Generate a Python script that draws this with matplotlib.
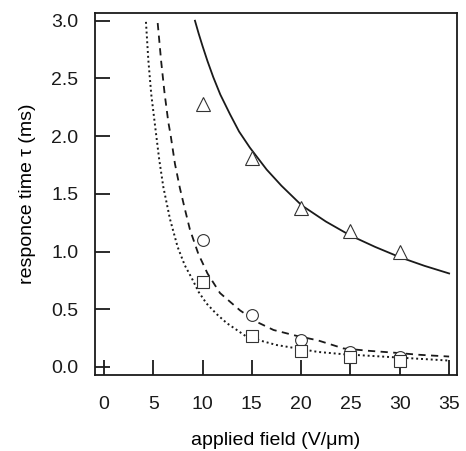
import matplotlib.pyplot as plt

plt.rcParams['font.family'] = ['Liberation Sans', 'DejaVu Sans']

# measured response times (ms) vs applied field (V/um)
field = [10, 15, 20, 25, 30]
tau_triangle = [2.28, 1.81, 1.38, 1.18, 1.00]
tau_circle = [1.10, 0.45, 0.23, 0.13, 0.09]
tau_square = [0.74, 0.27, 0.14, 0.09, 0.055]

# fitted curves
solid_x = [9.23, 9.6, 10.0, 10.5, 11.09, 11.8, 12.78, 13.7, 14.8, 16.5, 18.0, 20.05, 22.5, 24.96, 27.5, 30.03, 32.5, 35.0]
solid_y = [3.00, 2.89, 2.78, 2.65, 2.51, 2.36, 2.19, 2.04, 1.90, 1.71, 1.57, 1.40, 1.26, 1.14, 1.04, 0.950, 0.876, 0.81]

dashed_x = [5.45, 5.8, 6.15, 6.53, 6.76, 7.2, 7.7, 8.2, 8.72, 9.57, 10.5, 11.77, 13.8, 15.5, 17.2, 19.5, 21.7, 24.3, 26.8, 29.35, 32.0, 35.0]
dashed_y = [2.98, 2.65, 2.37, 2.12, 2.01, 1.76, 1.55, 1.37, 1.19, 0.98, 0.81, 0.64, 0.49, 0.39, 0.32, 0.27, 0.23, 0.16, 0.14, 0.124, 0.105, 0.09]

dotted_x = [4.26, 4.5, 4.8, 5.17, 5.6, 6.02, 6.7, 7.47, 8.2, 8.9, 9.6, 10.4, 11.4, 12.45, 14.5, 17.5, 21.7, 24.3, 29.35, 35.0]
dotted_y = [2.99, 2.66, 2.36, 2.10, 1.80, 1.56, 1.28, 1.04, 0.88, 0.77, 0.65, 0.55, 0.46, 0.38, 0.26, 0.19, 0.13, 0.11, 0.084, 0.055]

fig = plt.figure(figsize=(4.66, 4.51), dpi=100)
ax = fig.add_axes([0.204, 0.1685, 0.7767, 0.8027])

ax.plot(solid_x, solid_y, color='#1a1a1a', lw=1.3, zorder=2)
ax.plot(dashed_x, dashed_y, color='#1a1a1a', lw=1.3, dashes=(4, 3), zorder=2)
ax.plot(dotted_x, dotted_y, color='#1a1a1a', lw=1.4, dashes=(1.0, 1.5), zorder=2)

mk = dict(ls='none', mfc='white', mec='#333333', mew=0.8, zorder=3, clip_on=False)
ax.plot(field, tau_triangle, marker='^', ms=9.5, **mk)
ax.plot(field, tau_circle, marker='o', ms=8.5, **mk)
ax.plot(field, tau_square, marker='s', ms=8, **mk)

ax.set_xlim(-0.9, 35.8)
ax.set_ylim(-0.07, 3.067)
ax.set_xticks([0, 5, 10, 15, 20, 25, 30, 35])
ax.set_yticks([0.0, 0.5, 1.0, 1.5, 2.0, 2.5, 3.0])
ax.set_yticklabels(['0.0', '0.5', '1.0', '1.5', '2.0', '2.5', '3.0'])
ax.tick_params(direction='in', length=10.5, width=1.3, labelsize=14, colors='#1a1a1a')
ax.tick_params(axis='x', pad=15)
ax.tick_params(axis='y', pad=12)
for s in ax.spines.values():
    s.set_linewidth(1.3)
    s.set_color('#1a1a1a')

ax.set_xlabel('applied field (V/μm)', fontsize=14, labelpad=14)
ax.set_ylabel('responce time τ (ms)', fontsize=14, labelpad=11)

fig.savefig('out.png', dpi=100)
